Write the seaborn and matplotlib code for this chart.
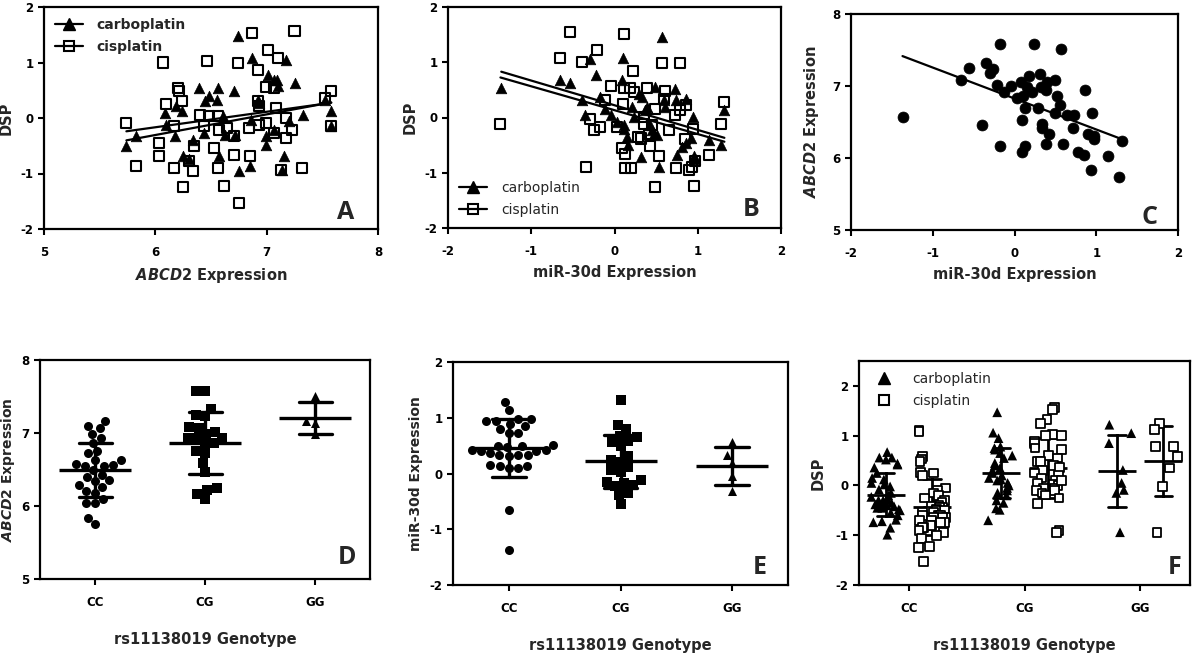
import numpy as np
import pandas as pd
import matplotlib
matplotlib.use("Agg")
import matplotlib.pyplot as plt
from matplotlib.lines import Line2D
import seaborn as sns

# ---------------- data ----------------
# Panel A: DSP vs ABCD2 expression
a_carbo_x = [5.74, 5.83, 6.09, 6.10, 6.18, 6.19, 6.24, 6.25, 6.30, 6.34, 6.39, 6.44, 6.45, 6.48, 6.55,
             6.56, 6.57, 6.61, 6.63, 6.71, 6.72, 6.74, 6.75, 6.85, 6.86, 6.87, 6.92, 6.93, 6.99, 6.99,
             7.01, 7.07, 7.09, 7.10, 7.07, 7.14, 7.16, 7.17, 7.20, 7.25, 7.33, 7.52, 7.58, 7.58]
a_carbo_y = [-0.51, -0.33, 0.09, -0.12, -0.33, 0.22, 0.12, -0.69, -0.74, -0.39, 0.54, -0.27, 0.30, 0.39, 0.33,
             0.54, -0.69, 0.03, -0.30, 0.48, -0.30, 1.47, -0.96, -0.87, -0.03, 1.08, 0.33, 0.27, -0.48, -0.33,
             0.78, 0.69, 0.69, 0.58, -0.21, -0.93, -0.69, 1.05, -0.06, 0.63, 0.06, 0.33, 0.12, -0.15]
a_cis_x = [5.74, 5.83, 6.03, 6.03, 6.07, 6.10, 6.17, 6.17, 6.20, 6.21, 6.24, 6.25, 6.30, 6.35, 6.34,
           6.40, 6.44, 6.46, 6.48, 6.53, 6.56, 6.56, 6.57, 6.62, 6.64, 6.71, 6.71, 6.74, 6.75, 6.84,
           6.85, 6.87, 6.92, 6.92, 6.93, 6.93, 6.99, 6.99, 7.01, 7.07, 7.08, 7.07, 7.10, 7.13, 7.17,
           7.17, 7.23, 7.25, 7.32, 7.52, 7.58, 7.58]
a_cis_y = [-0.09, -0.87, -0.45, -0.69, 1.00, 0.25, -0.90, -0.15, 0.54, 0.48, 0.30, -1.24, -0.78, -0.50, -0.96,
           0.06, -0.15, 1.02, 0.03, -0.54, 0.03, -0.90, -0.21, -1.23, -0.18, -0.33, -0.66, 0.99, -1.53, -0.18,
           -0.69, 1.53, 0.87, 0.30, 0.21, -0.12, 0.56, -0.09, 1.23, 0.54, 0.18, -0.27, 1.08, -0.93, 0.00,
           -0.36, -0.21, 1.56, -0.90, 0.36, 0.48, -0.15]

# Panel B: DSP vs miR-30d expression
b_carbo_x = [-1.36, -0.65, -0.54, -0.39, -0.35, -0.29, -0.22, -0.18, -0.12, -0.04, 0.03, 0.09, 0.10, 0.11, 0.12,
             0.15, 0.16, 0.21, 0.23, 0.29, 0.32, 0.33, 0.37, 0.39, 0.43, 0.45, 0.47, 0.49, 0.51, 0.53,
             0.57, 0.59, 0.61, 0.73, 0.74, 0.75, 0.81, 0.86, 0.86, 0.92, 0.94, 0.96, 0.97, 1.13, 1.28, 1.32]
b_carbo_y = [0.54, 0.67, 0.63, 0.31, 0.04, 1.05, 0.77, 0.37, 0.16, 0.04, -0.08, 0.68, 1.07, -0.14, -0.20,
             -0.35, -0.50, 0.19, 0.01, 0.43, -0.71, 0.37, 0.13, 0.19, -0.14, -0.23, -0.29, 0.55, -0.32, -0.89,
             1.46, 0.31, 0.19, 0.52, 0.31, -0.68, -0.53, 0.34, -0.47, -0.38, 0.01, -0.70, -0.76, -0.40, -0.50, 0.13]
b_cis_x = [-1.37, -0.65, -0.54, -0.39, -0.34, -0.29, -0.25, -0.21, -0.17, -0.11, -0.04, 0.03, 0.09, 0.10, 0.11,
           0.12, 0.13, 0.13, 0.19, 0.20, 0.22, 0.23, 0.28, 0.32, 0.35, 0.36, 0.39, 0.41, 0.43, 0.45,
           0.49, 0.49, 0.53, 0.57, 0.59, 0.61, 0.65, 0.73, 0.74, 0.79, 0.79, 0.85, 0.86, 0.90, 0.93,
           0.94, 0.96, 0.97, 1.13, 1.28, 1.32]
b_cis_y = [-0.12, 1.07, 1.54, 1.01, -0.89, -0.02, -0.23, 1.23, -0.17, 0.31, 0.57, -0.17, -0.56, 0.25, 0.53,
           1.52, -0.66, -0.92, 0.53, -0.92, 0.85, 0.47, -0.35, -0.38, 0.01, -0.11, 0.53, -0.29, -0.51, -0.14,
           0.16, -1.26, -0.69, 0.99, 0.34, 0.48, -0.23, 0.04, -0.91, 0.99, 0.13, -0.39, 0.22, -0.95, -0.89,
           -0.20, -1.24, -0.78, -0.68, -0.12, 0.28]

# Panel C: ABCD2 vs miR-30d expression
c_x = [-1.37, -0.65, -0.56, -0.40, -0.35, -0.30, -0.26, -0.22, -0.18, -0.18, -0.13, -0.04, 0.03, 0.08, 0.09,
       0.09, 0.10, 0.13, 0.13, 0.15, 0.18, 0.21, 0.24, 0.29, 0.31, 0.32, 0.34, 0.34, 0.39, 0.38,
       0.40, 0.42, 0.49, 0.49, 0.52, 0.56, 0.57, 0.59, 0.64, 0.73, 0.72, 0.78, 0.85, 0.86, 0.90,
       0.94, 0.95, 0.97, 0.97, 1.14, 1.28, 1.31]
c_y = [6.57, 7.09, 7.25, 6.46, 7.32, 7.18, 7.23, 7.01, 7.58, 6.16, 6.92, 7.00, 6.84, 7.06, 6.53,
       6.09, 6.86, 6.70, 6.17, 6.99, 7.14, 6.92, 7.58, 6.70, 7.17, 6.99, 6.47, 6.42, 6.94, 6.19,
       7.06, 6.34, 7.08, 6.63, 6.86, 6.74, 7.51, 6.20, 6.60, 6.60, 6.41, 6.09, 6.04, 6.94, 6.34,
       5.83, 6.62, 6.30, 6.26, 6.03, 5.74, 6.23]

genotypes = ["CC", "CG", "GG"]
drugs = ["carboplatin", "cisplatin"]

# Panel D: ABCD2 expression by genotype
d_cc = [7.10, 7.17, 7.07, 6.99, 6.93, 6.86, 6.72, 6.75, 6.63, 6.56, 6.55, 6.55, 6.57, 6.63, 6.49,
        6.40, 6.34, 6.35, 6.43, 6.26, 6.29, 6.18, 6.21, 6.04, 6.04, 6.10, 5.84, 5.75]
d_cg = [7.58, 7.58, 7.33, 7.23, 7.25, 7.07, 6.99, 7.08, 7.01, 6.93, 6.93, 6.93, 6.85, 6.86, 6.72,
        6.75, 6.59, 6.47, 6.22, 6.24, 6.17, 6.10]
d_gg = [7.51, 7.16, 7.14, 6.99]

# Panel E: miR-30d expression by genotype
e_cc = [1.29, 1.14, 0.94, 0.97, 0.97, 0.95, 0.85, 0.80, 0.89, 0.73, 0.73, 0.49, 0.47, 0.52, 0.42,
        0.40, 0.49, 0.40, 0.42, 0.33, 0.34, 0.34, 0.37, 0.31, 0.15, 0.14, 0.09, 0.09, 0.13, -0.65, -1.38]
e_cg = [1.32, 0.87, 0.80, 0.65, 0.57, 0.49, 0.59, 0.68, 0.31, 0.25, 0.21, 0.12, 0.07, 0.03, -0.15,
        -0.11, -0.17, -0.21, -0.35, -0.23, -0.38, -0.54]
e_gg = [0.56, 0.33, 0.19, -0.05, -0.32]

# Panel F: DSP by genotype and drug
f_cc_carbo = [0.67, 0.56, 0.56, 0.52, 0.44, 0.42, 0.36, 0.25, 0.15, 0.12, 0.05, 0.02, -0.02, -0.08, -0.15,
              -0.20, -0.23, -0.28, -0.30, -0.30, -0.33, -0.35, -0.36, -0.38, -0.40, -0.42, -0.43, -0.45,
              -0.45, -0.48, -0.50, -0.55, -0.60, -0.69, -0.72, -0.74, -0.85, -0.99]
f_cc_cis = [1.10, 1.08, 0.58, 0.53, 0.48, 0.26, 0.25, 0.20, -0.05, -0.10, -0.15, -0.20, -0.25, -0.30, -0.35,
            -0.40, -0.42, -0.45, -0.45, -0.48, -0.50, -0.50, -0.52, -0.55, -0.55, -0.60, -0.60, -0.60,
            -0.65, -0.65, -0.65, -0.70, -0.70, -0.75, -0.75, -0.80, -0.80, -0.85, -0.85, -0.90, -0.95,
            -1.00, -1.06, -1.23, -1.24, -1.53]
f_cg_carbo = [1.47, 1.06, 0.95, 0.78, 0.75, 0.72, 0.65, 0.60, 0.55, 0.45, 0.40, 0.35, 0.30, 0.25, 0.20,
              0.15, 0.12, 0.10, 0.05, 0.00, -0.05, -0.10, -0.15, -0.20, -0.30, -0.35, -0.46, -0.49, -0.70]
f_cg_cis = [1.56, 1.53, 1.32, 1.24, 1.02, 1.00, 1.00, 0.88, 0.85, 0.75, 0.72, 0.60, 0.55, 0.48, 0.48,
            0.40, 0.36, 0.30, 0.25, 0.20, 0.15, 0.10, 0.05, 0.02, 0.00, -0.05, -0.05, -0.10, -0.10,
            -0.15, -0.19, -0.25, -0.36, -0.90, -0.94, 0.10]
f_gg_carbo = [1.22, 1.05, 0.85, 0.31, 0.05, -0.09, -0.15, -0.94]
f_gg_cis = [1.24, 1.13, 0.78, 0.78, 0.58, 0.35, -0.02, -0.94]

# ---------------- style ----------------
sns.set_style("ticks")
plt.rcParams["font.family"] = ["DejaVu Sans"]
plt.rcParams["font.weight"] = "bold"
plt.rcParams["axes.labelweight"] = "bold"
plt.rcParams["axes.unicode_minus"] = False
plt.rcParams["mathtext.fontset"] = "custom"
plt.rcParams["mathtext.it"] = "DejaVu Sans:italic:bold"
plt.rcParams["mathtext.rm"] = "DejaVu Sans:bold"
np.random.seed(3)  # reproducible horizontal jitter in panel F

FIG_W, FIG_H = 1200, 658
fig = plt.figure(figsize=(12, 6.58), dpi=100)


def add_ax(left, top, right, bottom):
    return fig.add_axes([left / FIG_W, 1 - bottom / FIG_H, (right - left) / FIG_W, (bottom - top) / FIG_H])


def style(ax, xpad_lab, ypad_lab, xtickpad=7.5, xlabsize=10.5, ylabsize=10.5):
    for s in ax.spines.values():
        s.set_visible(True)
        s.set_linewidth(1.6)
        s.set_color("black")
    ax.tick_params(axis="both", direction="out", length=4.5, width=1.5, labelsize=8.5, colors="black")
    ax.tick_params(axis="x", pad=xtickpad)
    ax.tick_params(axis="y", pad=3)
    ax.xaxis.labelpad = xpad_lab
    ax.yaxis.labelpad = ypad_lab
    ax.xaxis.label.set_size(xlabsize)
    ax.yaxis.label.set_size(ylabsize)


def panel_letter(ax, letter, x, y):
    ax.text(x, y, letter, transform=ax.transAxes, ha="center", va="center",
            fontsize=18, fontweight="bold", family="Open Sans")


open_sq = dict(marker="s", s=52, color="none", edgecolor="black", linewidth=1.5)
fill_tri = dict(marker="^", s=58, color="black", edgecolor="black", linewidth=0.5)

leg_handles = [
    Line2D([], [], color="black", marker="^", markersize=8, linewidth=1.6),
    Line2D([], [], color="black", marker="s", markersize=7.5, markerfacecolor="none",
           markeredgewidth=1.5, linewidth=1.6),
]

# ---------------- Panel A ----------------
axA = add_ax(44, 7, 378, 229)
sns.scatterplot(x=a_carbo_x, y=a_carbo_y, ax=axA, **fill_tri)
sns.scatterplot(x=a_cis_x, y=a_cis_y, ax=axA, **open_sq)
sns.regplot(x=a_carbo_x, y=a_carbo_y, scatter=False, ci=None, color="black",
            line_kws={"linewidth": 1.6}, ax=axA)
sns.regplot(x=a_cis_x, y=a_cis_y, scatter=False, ci=None, color="black",
            line_kws={"linewidth": 1.6}, ax=axA)
axA.set_xlim(5, 8)
axA.set_ylim(-2, 2)
axA.set_xticks([5, 6, 7, 8])
axA.set_yticks([-2, -1, 0, 1, 2])
axA.set_xlabel(r"$\mathit{ABCD2}$ Expression")
axA.set_ylabel("DSP")
style(axA, 5, 5)
axA.legend(leg_handles, drugs, loc="upper left", frameon=False,
           prop={"weight": "bold", "size": 10}, handlelength=2.0, handletextpad=1.0,
           labelspacing=0.55, borderaxespad=0.4)
panel_letter(axA, "A", 0.904, 0.075)

# ---------------- Panel B ----------------
axB = add_ax(448, 7, 781, 228)
sns.scatterplot(x=b_carbo_x, y=b_carbo_y, ax=axB, **fill_tri)
sns.scatterplot(x=b_cis_x, y=b_cis_y, ax=axB, **open_sq)
sns.regplot(x=b_carbo_x, y=b_carbo_y, scatter=False, ci=None, color="black",
            line_kws={"linewidth": 1.6}, ax=axB)
sns.regplot(x=b_cis_x, y=b_cis_y, scatter=False, ci=None, color="black",
            line_kws={"linewidth": 1.6}, ax=axB)
axB.set_xlim(-2, 2)
axB.set_ylim(-2, 2)
axB.set_xticks([-2, -1, 0, 1, 2])
axB.set_yticks([-2, -1, 0, 1, 2])
axB.set_xlabel("miR-30d Expression")
axB.set_ylabel("DSP")
style(axB, 5, 5)
axB.legend(leg_handles, drugs, loc="lower left", frameon=False,
           prop={"weight": "normal", "size": 10}, handlelength=2.0, handletextpad=1.0,
           labelspacing=0.55, borderaxespad=0.4)
panel_letter(axB, "B", 0.91, 0.082)

# ---------------- Panel C ----------------
axC = add_ax(851, 14, 1178, 230)
sns.scatterplot(x=c_x, y=c_y, ax=axC, marker="o", s=62, color="black", edgecolor="black", linewidth=0.5)
sns.regplot(x=c_x, y=c_y, scatter=False, ci=None, color="black",
            line_kws={"linewidth": 1.6}, ax=axC)
axC.set_xlim(-2, 2)
axC.set_ylim(5, 8)
axC.set_xticks([-2, -1, 0, 1, 2])
axC.set_yticks([5, 6, 7, 8])
axC.set_xlabel("miR-30d Expression")
axC.set_ylabel(r"$\mathit{ABCD2}$ Expression")
style(axC, 5, 8)
panel_letter(axC, "C", 0.914, 0.058)


# ---------------- Panels D / E ----------------
def geno_panel(ax, cc, cg, gg, ylim, yticks, ylabel, letter, lpos, ylabpad):
    df = pd.DataFrame({
        "geno": ["CC"] * len(cc) + ["CG"] * len(cg) + ["GG"] * len(gg),
        "val": list(cc) + list(cg) + list(gg),
    })
    for g, m in zip(genotypes, ["o", "s", "^"]):
        sns.swarmplot(data=df[df["geno"] == g], x="geno", y="val", order=genotypes,
                      marker=m, color="black", size=6.5, ax=ax, warn_thresh=1)
    sns.pointplot(data=df, x="geno", y="val", order=genotypes, errorbar="sd", capsize=0.3,
                  color="black", marker="_", markersize=52, markeredgewidth=2.4,
                  linestyle="none", err_kws={"linewidth": 2.4}, ax=ax)
    ax.set_xlim(-0.5, 2.5)
    ax.set_ylim(*ylim)
    ax.set_yticks(yticks)
    ax.set_xlabel("rs11138019 Genotype")
    ax.set_ylabel(ylabel)
    style(ax, 17, ylabpad, ylabsize=10)
    panel_letter(ax, letter, *lpos)


axD = add_ax(40, 360, 370, 579)
geno_panel(axD, d_cc, d_cg, d_gg, (5, 8), [5, 6, 7, 8], r"$\mathit{ABCD2}$ Expression", "D",
           (0.93, 0.10), 3)

axE = add_ax(453, 362, 788, 585)
geno_panel(axE, e_cc, e_cg, e_gg, (-2, 2), [-2, -1, 0, 1, 2], "miR-30d Expression", "E",
           (0.916, 0.08), 5)

# ---------------- Panel F ----------------
axF = add_ax(859, 361, 1190, 585)
f_groups = [("CC", "carboplatin", f_cc_carbo), ("CC", "cisplatin", f_cc_cis),
            ("CG", "carboplatin", f_cg_carbo), ("CG", "cisplatin", f_cg_cis),
            ("GG", "carboplatin", f_gg_carbo), ("GG", "cisplatin", f_gg_cis)]
dfF = pd.DataFrame({
    "geno": [g for g, d, v in f_groups for _ in v],
    "drug": [d for g, d, v in f_groups for _ in v],
    "val": [x for g, d, v in f_groups for x in v],
})
sns.stripplot(data=dfF[dfF["drug"] == "carboplatin"], x="geno", y="val", hue="drug",
              order=genotypes, hue_order=drugs, dodge=True, jitter=0.26, marker="^",
              palette={"carboplatin": "black", "cisplatin": "black"}, size=7,
              legend=False, ax=axF)
sns.stripplot(data=dfF[dfF["drug"] == "cisplatin"], x="geno", y="val", hue="drug",
              order=genotypes, hue_order=drugs, dodge=True, jitter=0.26, marker="s",
              palette={"carboplatin": "white", "cisplatin": "white"}, edgecolor="black",
              linewidth=1.3, size=6.3, legend=False, ax=axF)
sns.pointplot(data=dfF, x="geno", y="val", hue="drug", order=genotypes, hue_order=drugs,
              dodge=0.4, errorbar="sd", capsize=0.15,
              palette={"carboplatin": "black", "cisplatin": "black"},
              marker="_", markersize=27, markeredgewidth=2.0, linestyle="none",
              err_kws={"linewidth": 2.0}, legend=False, ax=axF)
axF.set_xlim(-0.43, 2.43)
axF.set_ylim(-2, 2.5)
axF.set_yticks([-2, -1, 0, 1, 2])
axF.set_xlabel("rs11138019 Genotype")
axF.set_ylabel("DSP")
style(axF, 17, 7)
f_handles = [
    Line2D([], [], color="black", marker="^", markersize=8, linestyle="none"),
    Line2D([], [], color="black", marker="s", markersize=7.5, markerfacecolor="none",
           markeredgewidth=1.5, linestyle="none"),
]
axF.legend(f_handles, drugs, loc="upper left", frameon=False,
           prop={"weight": "normal", "size": 10}, handlelength=2.0, handletextpad=1.0,
           labelspacing=0.55, borderaxespad=0.4)
panel_letter(axF, "F", 0.955, 0.076)

fig.savefig("out.png", dpi=100)
